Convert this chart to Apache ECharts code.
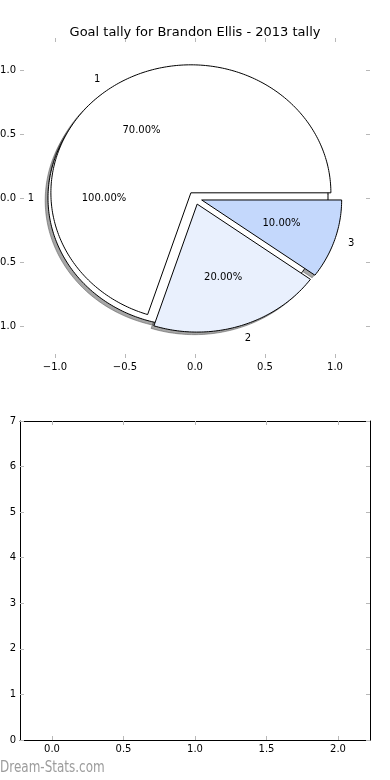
<!DOCTYPE html>
<html><head><meta charset="utf-8">
<script src="https://cdn.jsdelivr.net/npm/echarts@6/dist/echarts.min.js"></script>
<style>html,body{margin:0;padding:0;background:#fff}#c{width:390px;height:780px}</style>
</head><body><div id="c"></div>
<script>
// ---- data ----
const titleText = 'Goal tally for Brandon Ellis - 2013 tally';
const watermarkText = 'Dream-Stats.com';
const totalLabels = ['1'];
const totalValues = [100];
const tallyLabels = ['1', '2', '3'];
const tallyValues = [70, 20, 10];
const pieTicks = [-1, -0.5, 0, 0.5, 1];
const barXTicks = [0, 0.5, 1, 1.5, 2];
const barYTicks = [0, 1, 2, 3, 4, 5, 6, 7];

// ---- style ----
const totalColors = ['#ffffff'];
const tallyColors = ['#ffffff', '#e9f0fd', '#c4d8fc'];
const EXPLODE = 0.05, LABEL_DIST = 1.1, PCT_DIST = 0.6, SHADOW = -0.02;
const FONT = 'DejaVu Sans';
const TICK = '#b8b8b8';

function buildWedges(labels, values, colors) {
  const total = values.reduce((a, b) => a + b, 0);
  let acc = 0;
  return values.map((v, i) => {
    const a1 = acc / total * 360; acc += v; const a2 = acc / total * 360;
    return { a1, a2, label: labels[i], pct: (v / total * 100).toFixed(2) + '%', color: colors[i] };
  });
}
const wedges = buildWedges(totalLabels, totalValues, totalColors)
  .concat(buildWedges(tallyLabels, tallyValues, tallyColors));

function geom(w) {
  const full = Math.abs(w.a2 - w.a1 - 360) < 1e-9;
  const mid = (w.a1 + w.a2) / 2 * Math.PI / 180;
  return { full, mid, cx: EXPLODE * Math.cos(mid), cy: EXPLODE * Math.sin(mid) };
}
function wedgePoints(api, w, dx, dy) {
  const g = geom(w);
  const pts = [];
  if (!g.full) pts.push(api.coord([g.cx + dx, g.cy + dy]));
  const n = Math.max(4, Math.ceil(w.a2 - w.a1));
  for (let k = 0; k <= n; k++) {
    const a = (w.a1 + (w.a2 - w.a1) * k / n) * Math.PI / 180;
    pts.push(api.coord([g.cx + dx + Math.cos(a), g.cy + dy + Math.sin(a)]));
  }
  return pts;
}

const fmt = v => (v < 0 ? '\u2212' : '') + Math.abs(v).toFixed(1);
const tickStyle = { show: true, inside: true, length: 4, lineStyle: { color: TICK, width: 1 } };
const labelFont = { fontFamily: FONT, fontSize: 10, color: '#000' };

function ax(gridIndex, position, min, max, ticks, showLabel, showLine, formatter) {
  return {
    type: 'value', gridIndex, position, min, max,
    axisLine: { show: showLine, onZero: false, lineStyle: { color: '#000', width: 1 } },
    axisTick: Object.assign({ customValues: ticks }, tickStyle),
    axisLabel: Object.assign({ show: showLabel, customValues: ticks, margin: 4, formatter, hideOverlap: false }, labelFont),
    splitLine: { show: false }
  };
}

const chart = echarts.init(document.getElementById('c'), null, { renderer: 'canvas' });
chart.setOption({
  animation: false,
  backgroundColor: '#fff',
  title: { text: titleText, left: 'center', top: 21, textStyle: { fontFamily: FONT, fontSize: 13, fontWeight: 'normal', color: '#000' } },
  grid: [
    { left: 20, width: 350, top: 38, height: 320, containLabel: false, outerBoundsMode: 'none' },
    { left: 20, width: 350, top: 421, height: 319, containLabel: false, outerBoundsMode: 'none' }
  ],
  xAxis: [
    ax(0, 'bottom', -1.25, 1.25, pieTicks, true, false, fmt),
    ax(0, 'top', -1.25, 1.25, pieTicks, false, false, fmt),
    ax(1, 'bottom', -0.2238, 2.2238, barXTicks, true, true, fmt),
    ax(1, 'top', -0.2238, 2.2238, barXTicks, false, true, fmt)
  ],
  yAxis: [
    ax(0, 'left', -1.25, 1.25, pieTicks, true, false, fmt),
    ax(0, 'right', -1.25, 1.25, pieTicks, false, false, fmt),
    ax(1, 'left', 0, 7, barYTicks, true, true, v => String(v)),
    ax(1, 'right', 0, 7, barYTicks, false, true, v => String(v))
  ],
  graphic: [{
    type: 'text', x: 0, y: 768.5, scaleY: 1.25,
    style: { text: watermarkText, fill: '#9c9c9c', font: '12px "DejaVu Sans"', verticalAlign: 'middle' }
  }],
  series: [
    {
      type: 'custom', xAxisIndex: 0, yAxisIndex: 0, z: 1, silent: true,
      data: wedges.map((w, i) => [0, 0, i]),
      renderItem: (params, api) => {
        const w = wedges[params.dataIndex];
        return { type: 'polygon', shape: { points: wedgePoints(api, w, SHADOW, SHADOW) },
          style: { fill: 'rgba(77,77,77,0.5)', stroke: 'rgba(77,77,77,0.5)', lineWidth: 1 } };
      }
    },
    {
      type: 'custom', xAxisIndex: 0, yAxisIndex: 0, z: 2, silent: true,
      data: wedges.map((w, i) => [0, 0, i]),
      renderItem: (params, api) => {
        const w = wedges[params.dataIndex];
        const g = geom(w);
        const lx = g.cx + LABEL_DIST * Math.cos(g.mid), ly = g.cy + LABEL_DIST * Math.sin(g.mid);
        const px = g.cx + PCT_DIST * Math.cos(g.mid), py = g.cy + PCT_DIST * Math.sin(g.mid);
        const lp = api.coord([lx, ly]), pp = api.coord([px, py]);
        return { type: 'group', children: [
          { type: 'polygon', z2: params.dataIndex, shape: { points: wedgePoints(api, w, 0, 0) },
            style: { fill: w.color, stroke: '#000', lineWidth: 1 } },
          { type: 'text', z2: 100, x: lp[0], y: lp[1],
            style: { text: w.label, fill: '#000', font: '10px "DejaVu Sans"', align: lx > 0 ? 'left' : 'right', verticalAlign: 'middle' } },
          { type: 'text', z2: 100, x: pp[0], y: pp[1],
            style: { text: w.pct, fill: '#000', font: '10px "DejaVu Sans"', align: 'center', verticalAlign: 'middle' } }
        ] };
      }
    }
  ]
});
</script></body></html>
